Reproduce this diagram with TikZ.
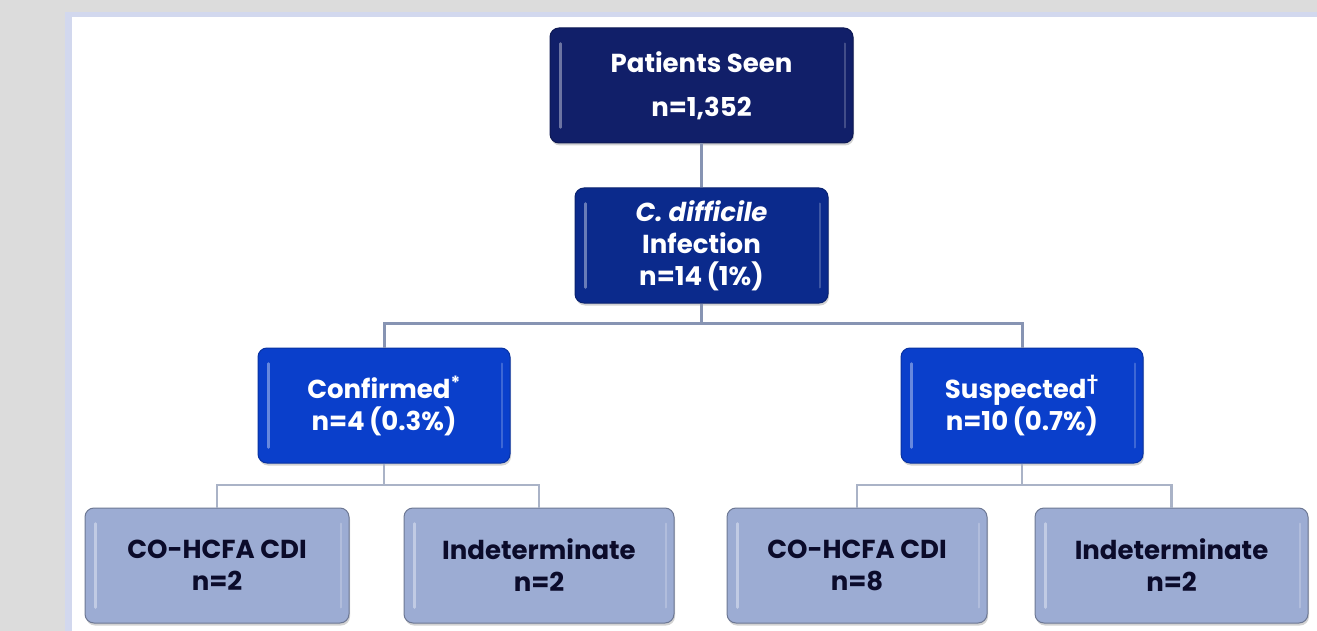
\documentclass[tikz,border=0pt]{standalone}
\usepackage{fontspec}
\setmainfont{Poppins}
\usetikzlibrary{shadows}
\definecolor{bg}{HTML}{DCDCDC}
\definecolor{strip}{HTML}{D2D8EE}
\definecolor{navy}{HTML}{111F69}
\definecolor{cdblue}{HTML}{0B2A8C}
\definecolor{midblue}{HTML}{0A3FCB}
\definecolor{lightbox}{HTML}{9CACD3}
\definecolor{lighttext}{HTML}{0B0B2A}
\definecolor{conn}{HTML}{8794B3}
\definecolor{connlight}{HTML}{AAB3C7}
\newcommand\bevelbox[2]{%
  \draw[#2!55!white, line width=2.5pt, line cap=round, opacity=0.85]
    ([xshift=11pt,yshift=-16pt]#1.north west) -- ([xshift=11pt,yshift=16pt]#1.south west);
  \draw[#2!65!white, line width=2pt, line cap=round, opacity=0.6]
    ([xshift=-9pt,yshift=-16pt]#1.north east) -- ([xshift=-9pt,yshift=16pt]#1.south east);
}
\begin{document}
\begin{tikzpicture}[x=1pt,y=-1pt,
  boxbase/.style={rounded corners=9pt, minimum height=115pt, align=center,
    font=\bfseries\fontsize{26}{32}\selectfont, inner sep=0pt,
    drop shadow={opacity=0.35, shadow xshift=1pt, shadow yshift=-2.5pt}},
  topbox/.style={boxbase, fill=navy, draw=navy!80!black, line width=1pt, text=white},
  cdbox/.style={boxbase, fill=cdblue, draw=cdblue!80!black, line width=1pt, text=white},
  midbox/.style={boxbase, fill=midblue, draw=midblue!80!black, line width=1pt, text=white},
  leafbox/.style={boxbase, fill=lightbox, draw=lightbox!70!black, line width=1pt, text=lighttext},
  connmain/.style={draw=conn, line width=3pt},
  connleaf/.style={draw=connlight, line width=2.5pt}]
\useasboundingbox (0,0) rectangle (1317,631);
\fill[bg] (0,0) rectangle (1317,631);
\fill[strip] (65,12) rectangle (1317,631);
\fill[white] (72,17) rectangle (1317,631);

% connector junctions
\coordinate (j1) at (701.5,323);
\coordinate (jl) at (384,485);
\coordinate (jr) at (1022,485);

% nodes
\node[topbox, minimum width=303pt] (ps) at (701.5,85.5) {Patients Seen\\[12pt]n=1,352};
\node[cdbox, minimum width=253pt] (cd) at (701.5,245.5) {\textit{C. difficile}\\Infection\\n=14\,(1\%)};
\node[midbox, minimum width=252pt] (conf) at (384,405.5) {Confirmed\textsuperscript{*}\\n=4\,(0.3\%)};
\node[midbox, minimum width=242pt] (susp) at (1022,405.5) {Suspected\textsuperscript{†}\\n=10\,(0.7\%)};
\node[leafbox, minimum width=264pt] (co1) at (217,565.5) {CO-HCFA CDI\\n=2};
\node[leafbox, minimum width=270pt] (in1) at (539,565.5) {Indeterminate\\n=2};
\node[leafbox, minimum width=260pt] (co2) at (857,565.5) {CO-HCFA CDI\\n=8};
\node[leafbox, minimum width=273pt] (in2) at (1171.5,565.5) {Indeterminate\\n=2};

\bevelbox{ps}{navy}
\bevelbox{cd}{cdblue}
\bevelbox{conf}{midblue}
\bevelbox{susp}{midblue}
\bevelbox{co1}{lightbox}
\bevelbox{in1}{lightbox}
\bevelbox{co2}{lightbox}
\bevelbox{in2}{lightbox}

% connectors
\draw[connmain] (ps.south) -- (cd.north);
\draw[connmain] (cd.south) -- (j1);
\draw[connmain] (conf.north) |- (j1) -| (susp.north);
\draw[connleaf] (conf.south) -- (jl);
\draw[connleaf] (co1.north) |- (jl) -| (in1.north);
\draw[connleaf] (susp.south) -- (jr);
\draw[connleaf] (co2.north) |- (jr) -| (in2.north);
\end{tikzpicture}
\end{document}
